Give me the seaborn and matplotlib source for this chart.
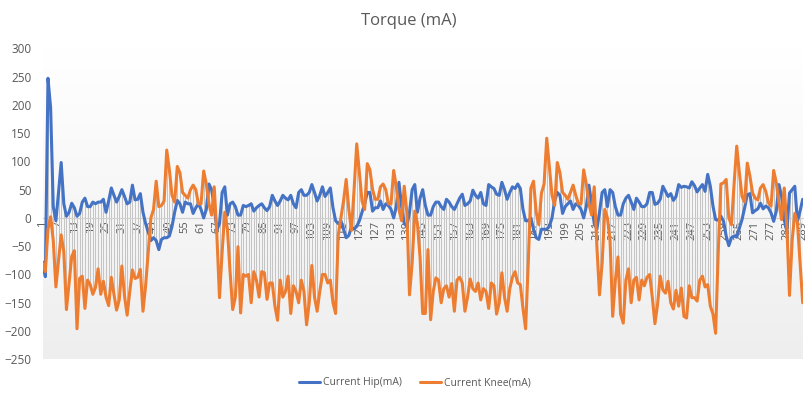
import numpy as np
import pandas as pd
import seaborn as sns
import matplotlib.pyplot as plt
from matplotlib.colors import LinearSegmentedColormap

# Excel export: two motor currents over 289 samples
hip = [
    -78, -104, 247, 195, 20, -5, 45, 98, 25, 3, 10, 26, 18, 3, 8, 28, 35, 20, 20, 28,
    25, 28, 28, 33, 10, 30, 53, 40, 28, 38, 50, 38, 25, 28, 58, 32, 33, 43, 10, -10,
    -25, -40, -35, -40, -56, -38, -35, -35, -32, -15, 10, 31, 25, 10, 28, 25, 25, 8, 18, 25,
    15, 0, 15, 60, 50, 20, -21, -10, 45, 55, 5, 25, 28, 20, 5, 5, 22, 20, 22, 25,
    12, 18, 22, 25, 18, 13, 20, 40, 30, 22, 30, 40, 35, 32, 40, 25, 18, 45, 50, 40,
    40, 45, 59, 45, 30, 40, 55, 38, 45, 53, 18, -5, -10, -5, -20, -35, -31, -16, -20, -15,
    -5, 10, 25, 45, 45, 12, 18, 18, 30, 15, 25, 22, 15, 0, 20, 63, 20, -10, -15, 10,
    50, 59, 10, 35, 50, 22, 5, 5, 20, 28, 28, 20, 15, 33, 28, 20, 15, 25, 35, 42,
    22, 25, 30, 49, 40, 35, 45, 25, 22, 59, 55, 52, 42, 40, 63, 50, 33, 45, 55, 52,
    60, 52, 15, -5, -5, 0, -20, -35, -38, -20, -20, -20, -15, 0, 30, 45, 40, 8, 20, 25,
    30, 15, 25, 22, 15, 0, 20, 58, 25, -10, -20, 10, 45, 50, 20, 50, 45, 20, 5, 5,
    25, 35, 40, 28, 15, 35, 28, 20, 20, 25, 45, 45, 24, 26, 33, 56, 47, 38, 43, 31,
    38, 59, 54, 56, 55, 53, 64, 57, 46, 53, 59, 47, 77, 56, 21, -3, -4, 3, -6, -32,
    -49, -35, -32, -34, -18, -3, 18, 41, 43, 9, 13, 16, 26, 16, 21, 18, 9, -6, 12, 59,
    38, -3, -24, 44, 50, 56, -6, 12, 33,
]
knee = [
    -80, -95, -20, 2, -40, -122, -75, -30, -60, -162, -115, -68, -58, -196, -107, -103, -160, -110, -118, -135,
    -123, -90, -135, -112, -140, -155, -105, -135, -163, -145, -85, -138, -172, -130, -92, -107, -105, -91, -165, -120,
    -60, 0, 15, 65, 20, 22, 30, 120, 85, 40, 28, 91, 80, 45, 40, 35, 50, 58, 50, 25,
    25, 83, 60, 25, 5, 55, -30, -141, -60, 10, -20, -95, -162, -140, -51, -168, -100, -103, -100, -150,
    -95, -110, -140, -95, -97, -144, -115, -115, -156, -181, -110, -140, -130, -103, -169, -120, -130, -150, -110, -130,
    -189, -150, -84, -140, -165, -130, -100, -100, -115, -110, -150, -169, -30, 0, 30, 68, 15, -22, 50, 131,
    80, 30, 15, 96, 85, 50, 33, 33, 55, 60, 50, 25, 25, 84, 55, 15, -5, 56, 10, -136,
    -80, 12, -10, -70, -169, -169, -56, -180, -130, -106, -110, -150, -125, -120, -140, -116, -165, -110, -105, -115,
    -165, -140, -108, -125, -130, -115, -145, -125, -130, -160, -115, -120, -170, -150, -97, -140, -165, -125, -105, -95,
    -115, -118, -160, -196, -80, 53, 65, 10, -12, 44, 60, 141, 90, 40, 22, 98, 80, 45, 40, 33,
    45, 58, 40, 25, 25, 85, 60, 25, 5, 55, -50, -136, -80, 15, 0, -40, -174, -110, -69, -170,
    -186, -110, -90, -150, -110, -105, -145, -110, -120, -105, -100, -140, -187, -153, -103, -127, -133, -112, -150, -161,
    -128, -156, -124, -174, -177, -120, -141, -141, -147, -110, -103, -122, -118, -156, -170, -204, -60, 60, 62, 68,
    0, -12, 60, 127, 80, 38, 28, 97, 74, 44, 35, 32, 53, 59, 47, 27, 21, 84, 62, 27,
    -3, 53, -15, -137, -40, 8, -8, -80, -150,
]
samples = list(range(1, len(hip) + 1))
series_names = ["Current Hip(mA)", "Current Knee(mA)"]
colors = ["#4472C4", "#ED7D31"]

df = pd.DataFrame({
    "sample": samples * 2,
    "value": hip + knee,
    "series": [series_names[0]] * len(hip) + [series_names[1]] * len(knee),
})

sns.set_style("white")
plt.rcParams["font.family"] = ["Open Sans", "DejaVu Sans"]
text_color = "#595959"

fig = plt.figure(figsize=(8.09, 3.98), dpi=100)
ax = fig.add_axes([42.7 / 809, 1 - 359.3 / 398, 760 / 809, 311 / 398])

# plot-area gradient fill (white at top, light grey at bottom)
cmap = LinearSegmentedColormap.from_list("plotfill", ["#eeeeee", "#ffffff"])
ax.imshow(np.linspace(0, 1, 256).reshape(-1, 1), cmap=cmap, aspect="auto",
          extent=[0, 1, 0, 1], transform=ax.transAxes, origin="lower", zorder=0)

# high-low lines between the two series
lo = np.minimum(hip, knee)
hi = np.maximum(hip, knee)
ax.vlines(samples, lo, hi, color="#c4c4c4", lw=0.7, zorder=1)

sns.lineplot(data=df, x="sample", y="value", hue="series", palette=dict(zip(series_names, colors)),
             lw=2.2, ax=ax, legend=False, zorder=3)

ax.set_xlim(1, 289)
ax.set_ylim(-250, 300)
ax.set_yticks(range(-250, 301, 50))
ax.set_xticks(range(1, 290, 6))
ax.tick_params(axis="x", labelrotation=90, length=0, pad=2, labelsize=8, labelcolor=text_color)
ax.tick_params(axis="y", length=0, pad=8, labelsize=8.5, labelcolor=text_color)
for s in ["top", "right", "left"]:
    ax.spines[s].set_visible(False)
ax.spines["bottom"].set_position(("data", 0))
ax.spines["bottom"].set_color("#d0d0d0")
ax.spines["bottom"].set_zorder(2)
ax.set_xlabel("")
ax.set_ylabel("")

fig.text(0.505, 0.947, "Torque (mA)", ha="center", va="center", fontsize=12, color=text_color)

handles = [plt.Line2D([], [], color=c, lw=2.2) for c in colors]
fig.legend(handles, series_names, loc="center", bbox_to_anchor=(0.513, 0.038), ncol=2, frameon=False,
           fontsize=7.5, labelcolor=text_color, handlelength=2.0, handletextpad=0.3, columnspacing=1.8)

fig.savefig("out.png", dpi=100)
